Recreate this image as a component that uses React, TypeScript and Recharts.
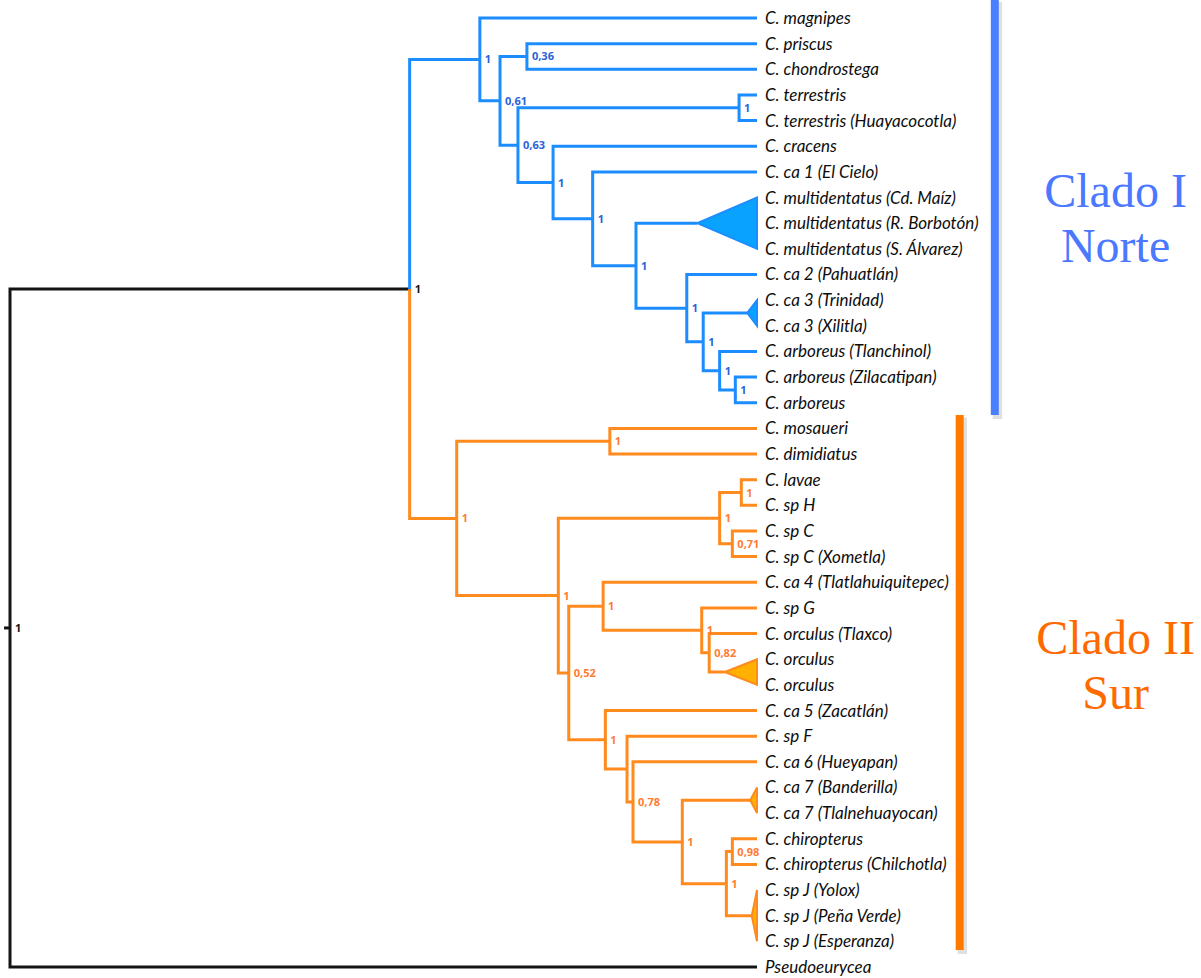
import React from 'react';
import { ComposedChart, Line, Area, Scatter, XAxis, YAxis, ReferenceArea, ReferenceDot } from 'recharts';

// ---------- data ----------
const leafNames: string[] = [
  'C. magnipes',
  'C. priscus',
  'C. chondrostega',
  'C. terrestris',
  'C. terrestris (Huayacocotla)',
  'C. cracens',
  'C. ca 1 (El Cielo)',
  'C. multidentatus (Cd. Maíz)',
  'C. multidentatus (R. Borbotón)',
  'C. multidentatus (S. Álvarez)',
  'C. ca 2 (Pahuatlán)',
  'C. ca 3 (Trinidad)',
  'C. ca 3 (Xilitla)',
  'C. arboreus (Tlanchinol)',
  'C. arboreus (Zilacatipan)',
  'C. arboreus',
  'C. mosaueri',
  'C. dimidiatus',
  'C. lavae',
  'C. sp H',
  'C. sp C',
  'C. sp C (Xometla)',
  'C. ca 4 (Tlatlahuiquitepec)',
  'C. sp G',
  'C. orculus (Tlaxco)',
  'C. orculus',
  'C. orculus',
  'C. ca 5 (Zacatlán)',
  'C. sp F',
  'C. ca 6 (Hueyapan)',
  'C. ca 7 (Banderilla)',
  'C. ca 7 (Tlalnehuayocan)',
  'C. chiropterus',
  'C. chiropterus (Chilchotla)',
  'C. sp J (Yolox)',
  'C. sp J (Peña Verde)',
  'C. sp J (Esperanza)',
  'Pseudoeurycea',
];

const TIP_DEPTH = 100;
const ROOT_STUB_DEPTH = -0.8;

type Kid = number | string;
interface TreeNode {
  id: string;
  depth: number;
  support: string;
  kids?: Kid[];
  collapsed?: [number, number];
}

const outerNodes: TreeNode[] = [
  { id: 'root', depth: 0, support: '1', kids: ['ingroup', 37] },
  { id: 'ingroup', depth: 53.5, support: '1', kids: ['A', 'M'] },
];

const northNodes: TreeNode[] = [
  { id: 'A', depth: 62.9, support: '1', kids: [0, 'B'] },
  { id: 'B', depth: 65.6, support: '0,61', kids: ['C', 'D'] },
  { id: 'C', depth: 69.2, support: '0,36', kids: [1, 2] },
  { id: 'D', depth: 68.0, support: '0,63', kids: ['E', 'F'] },
  { id: 'E', depth: 97.6, support: '1', kids: [3, 4] },
  { id: 'F', depth: 72.7, support: '1', kids: [5, 'G'] },
  { id: 'G', depth: 78.0, support: '1', kids: [6, 'H'] },
  { id: 'H', depth: 83.8, support: '1', kids: ['tMult', 'I'] },
  { id: 'tMult', depth: 92.0, support: '', collapsed: [7, 9] },
  { id: 'I', depth: 90.6, support: '1', kids: [10, 'J'] },
  { id: 'J', depth: 92.8, support: '1', kids: ['tCa3', 'K'] },
  { id: 'tCa3', depth: 98.7, support: '', collapsed: [11, 12] },
  { id: 'K', depth: 95.0, support: '1', kids: [13, 'L'] },
  { id: 'L', depth: 97.1, support: '1', kids: [14, 15] },
];

const southNodes: TreeNode[] = [
  { id: 'M', depth: 59.8, support: '1', kids: ['N', 'O'] },
  { id: 'N', depth: 80.3, support: '1', kids: [16, 17] },
  { id: 'O', depth: 73.4, support: '1', kids: ['P', 'Q'] },
  { id: 'P', depth: 95.0, support: '1', kids: ['P1', 'P2'] },
  { id: 'P1', depth: 97.9, support: '1', kids: [18, 19] },
  { id: 'P2', depth: 96.7, support: '0,71', kids: [20, 21] },
  { id: 'Q', depth: 74.8, support: '0,52', kids: ['R', 'S'] },
  { id: 'R', depth: 79.4, support: '1', kids: [22, 'T'] },
  { id: 'T', depth: 92.6, support: '1', kids: [23, 'U'] },
  { id: 'U', depth: 93.6, support: '0,82', kids: [24, 'tOrc'] },
  { id: 'tOrc', depth: 95.7, support: '', collapsed: [25, 26] },
  { id: 'S', depth: 79.7, support: '1', kids: [27, 'V'] },
  { id: 'V', depth: 82.6, support: '', kids: [28, 'W'] },
  { id: 'W', depth: 83.4, support: '0,78', kids: [29, 'X'] },
  { id: 'X', depth: 90.0, support: '1', kids: ['tCa7', 'Y'] },
  { id: 'tCa7', depth: 99.1, support: '', collapsed: [30, 31] },
  { id: 'Y', depth: 95.9, support: '1', kids: ['Z', 'tSpJ'] },
  { id: 'Z', depth: 96.7, support: '0,98', kids: [32, 33] },
  { id: 'tSpJ', depth: 99.3, support: '', collapsed: [34, 36] },
];

const cladeTitles = ['Clado I', 'Clado II'];
const cladeSubtitles = ['Norte', 'Sur'];
const cladeLeafRanges: [number, number][] = [
  [0, 15],
  [16, 36],
];

// ---------- styles ----------
const BLUE = '#1C8DFF';
const ORANGE = '#FF8A1E';
const BLACK = '#141414';
const BLUE_LABEL = '#2A62DA';
const ORANGE_LABEL = '#FF7B32';
const BLUE_FILL = '#0AA2FF';
const ORANGE_FILL = '#FFB000';
const CLADE_BAR = ['#4A80FF', '#FF7800'];
const CLADE_TEXT = ['#4A78FF', '#FF6A00'];
// layout for clade annotations (x in depth units, y padding in leaf units)
const CLADE_BAR_X = [131.3, 126.6];
const CLADE_BAR_W = 1.07;
const CLADE_BAR_PAD: [number, number][] = [
  [-0.72, 0.48],
  [-0.52, 0.34],
];
const CLADE_TEXT_X = 148;
const CLADE_TEXT_DY = [-3, -31];

// ---------- layout computation ----------
const allNodes = [...outerNodes, ...northNodes, ...southNodes];
const byId: Record<string, TreeNode> = {};
allNodes.forEach((n) => (byId[n.id] = n));

function pos(k: Kid): { x: number; y: number } {
  if (typeof k === 'number') return { x: TIP_DEPTH, y: k };
  const n = byId[k];
  if (n.collapsed) return { x: n.depth, y: (n.collapsed[0] + n.collapsed[1]) / 2 };
  const kids = n.kids as Kid[];
  const a = pos(kids[0]);
  const b = pos(kids[kids.length - 1]);
  return { x: n.depth, y: (a.y + b.y) / 2 };
}

function bracket(n: TreeNode) {
  const kids = n.kids as Kid[];
  const a = pos(kids[0]);
  const b = pos(kids[kids.length - 1]);
  return [
    { x: a.x, y: a.y },
    { x: n.depth, y: a.y },
    { x: n.depth, y: b.y },
    { x: b.x, y: b.y },
  ];
}

function triangle(n: TreeNode) {
  const p = pos(n.id);
  const [f, l] = n.collapsed as [number, number];
  return [
    { x: p.x, y: p.y },
    { x: TIP_DEPTH, y: f },
    { x: TIP_DEPTH, y: l },
    { x: p.x, y: p.y },
  ];
}

function triangleArea(n: TreeNode) {
  const p = pos(n.id);
  const [f, l] = n.collapsed as [number, number];
  return [
    { x: p.x, r: [p.y, p.y] },
    { x: TIP_DEPTH, r: [f, l] },
  ];
}

const leafData = leafNames.map((name, i) => ({ x: TIP_DEPTH, y: i, name }));
const supportData = (nodes: TreeNode[]) =>
  nodes.filter((n) => n.support !== '').map((n) => ({ ...pos(n.id), label: n.support }));

const LEAF_FONT = 'Lato, "Open Sans", sans-serif';
const SUPPORT_FONT = '"Open Sans", sans-serif';

const supportShape = (color: string) => (p: any) =>
  (
    <text
      x={p.cx + 5}
      y={p.cy + 4}
      fill={color}
      fontFamily={SUPPORT_FONT}
      fontWeight={700}
      fontSize={11}
    >
      {p.payload.label}
    </text>
  );

const leafShape = (p: any) => (
  <text
    x={p.cx + 8}
    y={p.cy + 6}
    fill="#0d0d0d"
    fontFamily={LEAF_FONT}
    fontStyle="italic"
    fontSize={17}
  >
    {p.payload.name}
  </text>
);

export default function App() {
  const ing = byId['ingroup'];
  const ingPos = pos('ingroup');
  const aPos = pos('A');
  const mPos = pos('M');
  const rootPos = pos('root');

  const series: React.ReactNode[] = [];
  const lineProps = {
    dataKey: 'y',
    dot: false,
    activeDot: false,
    isAnimationActive: false,
    type: 'linear' as const,
    strokeWidth: 3,
    strokeLinejoin: 'miter' as const,
    legendType: 'none' as const,
  };

  // root (black)
  series.push(
    <Line
      key="root"
      {...lineProps}
      data={[
        { x: ingPos.x, y: ingPos.y },
        { x: 0, y: ingPos.y },
        { x: 0, y: 37 },
        { x: TIP_DEPTH, y: 37 },
      ]}
      stroke={BLACK}
    />
  );
  series.push(
    <Line
      key="rootstub"
      {...lineProps}
      data={[
        { x: ROOT_STUB_DEPTH, y: rootPos.y },
        { x: 0, y: rootPos.y },
      ]}
      stroke={BLACK}
    />
  );
  // ingroup split
  series.push(
    <Line
      key="ing-n"
      {...lineProps}
      data={[
        { x: aPos.x, y: aPos.y },
        { x: ing.depth, y: aPos.y },
        { x: ing.depth, y: ingPos.y },
      ]}
      stroke={BLUE}
    />
  );
  series.push(
    <Line
      key="ing-s"
      {...lineProps}
      data={[
        { x: ing.depth, y: ingPos.y },
        { x: ing.depth, y: mPos.y },
        { x: mPos.x, y: mPos.y },
      ]}
      stroke={ORANGE}
    />
  );

  const addClade = (nodes: TreeNode[], color: string, fill: string) => {
    nodes.forEach((n) => {
      if (n.collapsed) {
        series.push(
          <Area
            key={n.id + '-fill'}
            data={triangleArea(n)}
            dataKey="r"
            type="linear"
            fill={fill}
            fillOpacity={1}
            stroke="none"
            isAnimationActive={false}
            dot={false}
            activeDot={false}
            legendType="none"
          />
        );
        series.push(
          <Line key={n.id} {...lineProps} strokeWidth={2} data={triangle(n)} stroke={color} />
        );
      } else {
        series.push(<Line key={n.id} {...lineProps} data={bracket(n)} stroke={color} />);
      }
    });
  };
  addClade(northNodes, BLUE, BLUE_FILL);
  addClade(southNodes, ORANGE, ORANGE_FILL);

  return (
    <div style={{ position: 'absolute', left: 0, top: 0, width: 1201, height: 978, background: '#fff' }}>
      <ComposedChart width={1201} height={978} margin={{ top: 18, right: 444, bottom: 11, left: 0 }}>
        <XAxis type="number" dataKey="x" domain={[-1.34, 100]} hide />
        <YAxis type="number" dataKey="y" domain={[0, 37]} reversed hide />

        {cladeLeafRanges.map((r, i) => (
          <ReferenceArea
            key={'shadow' + i}
            x1={CLADE_BAR_X[i] + 0.25}
            x2={CLADE_BAR_X[i] + CLADE_BAR_W + 0.45}
            y1={r[0] + CLADE_BAR_PAD[i][0] + 0.1}
            y2={r[1] + CLADE_BAR_PAD[i][1] + 0.15}
            fill="#000"
            fillOpacity={0.12}
            stroke="none"
            ifOverflow="visible"
          />
        ))}
        {cladeLeafRanges.map((r, i) => (
          <ReferenceArea
            key={'bar' + i}
            x1={CLADE_BAR_X[i]}
            x2={CLADE_BAR_X[i] + CLADE_BAR_W}
            y1={r[0] + CLADE_BAR_PAD[i][0]}
            y2={r[1] + CLADE_BAR_PAD[i][1]}
            fill={CLADE_BAR[i]}
            fillOpacity={1}
            stroke="none"
            ifOverflow="visible"
          />
        ))}

        {series}

        <Scatter data={leafData} shape={leafShape} isAnimationActive={false} legendType="none" />
        <Scatter
          data={supportData(outerNodes)}
          shape={supportShape(BLACK)}
          isAnimationActive={false}
          legendType="none"
        />
        <Scatter
          data={supportData(northNodes)}
          shape={supportShape(BLUE_LABEL)}
          isAnimationActive={false}
          legendType="none"
        />
        <Scatter
          data={supportData(southNodes)}
          shape={supportShape(ORANGE_LABEL)}
          isAnimationActive={false}
          legendType="none"
        />

        {cladeLeafRanges.map((r, i) => (
          <ReferenceDot
            key={'ct' + i}
            x={CLADE_TEXT_X}
            y={(r[0] + r[1]) / 2}
            ifOverflow="visible"
            shape={(p: any) => (
              <g>
                <text
                  x={p.cx}
                  y={p.cy + CLADE_TEXT_DY[i]}
                  textAnchor="middle"
                  fill={CLADE_TEXT[i]}
                  fontFamily='"Liberation Serif", "DejaVu Serif", serif'
                  fontSize={48}
                >
                  {cladeTitles[i]}
                </text>
                <text
                  x={p.cx}
                  y={p.cy + CLADE_TEXT_DY[i] + 55}
                  textAnchor="middle"
                  fill={CLADE_TEXT[i]}
                  fontFamily='"Liberation Serif", "DejaVu Serif", serif'
                  fontSize={48}
                >
                  {cladeSubtitles[i]}
                </text>
              </g>
            )}
          />
        ))}
      </ComposedChart>
    </div>
  );
}
